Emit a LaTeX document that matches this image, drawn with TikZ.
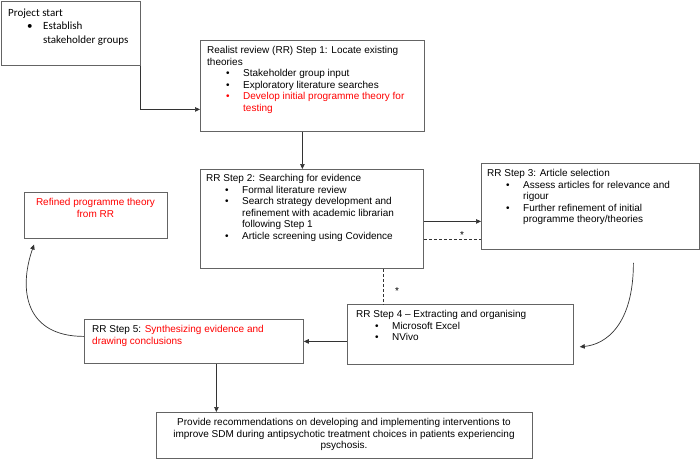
\documentclass[tikz,border=0pt]{standalone}
\usepackage{fontspec}
\setmainfont{Liberation Sans}
\newfontfamily\calibri{Carlito}
\usetikzlibrary{arrows.meta}
\definecolor{boxgray}{RGB}{100,100,100}
\newcommand{\bul}{\hspace*{19pt}\makebox[17pt][l]{\textbullet}}
\newcommand{\ind}{\hspace*{36pt}}
\begin{document}
\begin{tikzpicture}[x=1pt, y=-1pt, >={Triangle[length=5pt,width=4.5pt]},
    box/.style={draw=boxgray, line width=0.8pt, inner sep=0pt, anchor=north west},
    txt/.style={inner sep=0pt, anchor=north west, align=left, font=\fontsize{10}{11.6}\selectfont},
    ctxt/.style={inner sep=0pt, anchor=north, align=center, font=\fontsize{10}{11.6}\selectfont},
    link/.style={->, draw=black!80, line width=0.7pt},
    dlink/.style={draw=black!80, line width=0.7pt, dash pattern=on 3pt off 2pt}]
    \useasboundingbox (0,0) rectangle (700,459);

    % Kasten
    \node[box, minimum width=139pt, minimum height=64.5pt] (start) at (0.5,0.5) {};
    \node[box, minimum width=224pt, minimum height=91pt] (s1) at (200,40) {};
    \node[box, minimum width=223pt, minimum height=99pt] (s2) at (200,169) {};
    \node[box, minimum width=218pt, minimum height=86pt] (s3) at (481,163) {};
    \node[box, minimum width=226pt, minimum height=60pt] (s4) at (347,304) {};
    \node[box, minimum width=219pt, minimum height=44pt] (s5) at (84,319) {};
    \node[box, minimum width=143pt, minimum height=46pt] (ref) at (24,192) {};
    \node[box, minimum width=376pt, minimum height=46pt] (fin) at (156,412) {};

    % Texte
    \node[txt, font=\calibri\fontsize{11}{13.4}\selectfont] (startt) at (8,8.5)
        {Project start\\
         \hspace*{19pt}\makebox[16pt][l]{\textbullet}Establish\\
         \hspace*{35pt}stakeholder groups};
    \node[txt] (s1t) at (207,46)
        {Realist review (RR) Step 1: Locate existing\\
         theories\\
         \bul Stakeholder group input\\
         \bul Exploratory literature searches\\
         \textcolor{red}{\bul Develop initial programme theory for}\\
         \textcolor{red}{\ind testing}};
    \node[txt] (s2t) at (206,174)
        {RR Step 2: Searching for evidence\\
         \bul Formal literature review\\
         \bul Search strategy development and\\
         \ind refinement with academic librarian\\
         \ind following Step 1\\
         \bul Article screening using Covidence};
    \node[txt] (s3t) at (487,169)
        {RR Step 3: Article selection\\
         \bul Assess articles for relevance and\\
         \ind rigour\\
         \bul Further refinement of initial\\
         \ind programme theory/theories};
    \node[txt] (s4t) at (356,310)
        {RR Step 4 -- Extracting and organising\\
         \bul Microsoft Excel\\
         \bul NVivo};
    \node[txt] (s5t) at (92,325)
        {RR Step 5: \textcolor{red}{Synthesizing evidence and}\\
         \textcolor{red}{drawing conclusions}};
    \node[ctxt, red] (reft) at (95.5,198)
        {Refined programme theory\\from RR};
    \node[ctxt] (fint) at (344,418)
        {Provide recommendations on developing and implementing interventions to\\
         improve SDM during antipsychotic treatment choices in patients experiencing\\
         psychosis.};

    % Pfeile
    \draw[link] (start.south east) |- ([yshift=-23.5pt]s1.west);
    \draw[link] ([xshift=-10pt]s1.south) -- ([xshift=-10pt]s1.south |- s2.north);
    \draw[link] ([yshift=-2.5pt]s2.east) -- ([yshift=-2.5pt]s2.east -| s3.west);
    \draw[link, shorten <=13pt, shorten >=6pt] ([xshift=43pt]s3.south)
        .. controls +(0,75) and +(32,-3) .. ([yshift=-13pt]s4.east);
    \draw[link] (s4.west |- s5.east) -- (s5.east);
    \draw[link, shorten >=6pt] ([yshift=5pt]s5.west)
        .. controls +(-58,0) and +(-18,52) .. ([xshift=12pt]ref.south west);
    \draw[link] ([xshift=22.5pt]s5.south) -- ([xshift=22.5pt]s5.south |- fin.north);

    % gestrichelte Verbindungen
    \draw[dlink] ([yshift=-20.5pt]s2.east) -- ([yshift=-20.5pt]s2.east -| s3.west);
    \node[inner sep=0pt, font=\fontsize{10}{12}\selectfont] (ast1) at (462,235) {*};
    \draw[dlink] ([xshift=71.5pt]s2.south) -- ([xshift=71.5pt]s2.south |- s4.north);
    \node[inner sep=0pt, font=\fontsize{10}{12}\selectfont] (ast2) at (397,291) {*};
\end{tikzpicture}
\end{document}
